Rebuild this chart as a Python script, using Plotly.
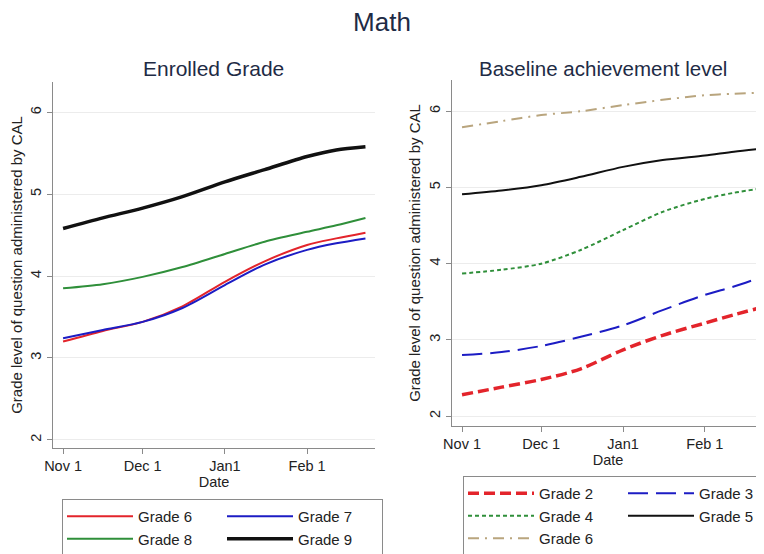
import plotly.graph_objects as go

# ---- data ----
days = [0, 15, 30, 45, 61, 76, 92, 103, 114]  # days since Nov 1
tick_days = [0, 30, 61, 92]
tick_labels = ["Nov 1", "Dec 1", "Jan1", "Feb 1"]
y_ticks = [2, 3, 4, 5, 6]

# Enrolled grade panel
enr_g6 = [3.20, 3.33, 3.44, 3.63, 3.93, 4.18, 4.38, 4.46, 4.53]
enr_g7 = [3.24, 3.34, 3.44, 3.61, 3.89, 4.14, 4.32, 4.40, 4.46]
enr_g8 = [3.85, 3.90, 3.99, 4.11, 4.27, 4.42, 4.54, 4.62, 4.71]
enr_g9 = [4.58, 4.71, 4.83, 4.97, 5.15, 5.30, 5.46, 5.54, 5.58]

# Baseline achievement panel
base_g2 = [2.28, 2.38, 2.48, 2.62, 2.87, 3.06, 3.22, 3.33, 3.43]
base_g3 = [2.80, 2.84, 2.92, 3.04, 3.19, 3.39, 3.59, 3.70, 3.83]
base_g4 = [3.87, 3.92, 4.00, 4.18, 4.44, 4.68, 4.85, 4.93, 4.99]
base_g5 = [4.91, 4.96, 5.03, 5.14, 5.27, 5.36, 5.42, 5.47, 5.51]
base_g6 = [5.79, 5.87, 5.95, 6.00, 6.08, 6.15, 6.21, 6.23, 6.245]

# page body has an 8px margin; figure fills the rest of the window
OFF = 8
W, H = 764 - OFF, 554 - OFF
def px_x(p):
    return (p - OFF) / W
def px_y(p):
    return 1 - (p - OFF) / H

RED = "#e3242b"
BLUE = "#1c1cc4"
GREEN = "#2f8f3a"
BLACK = "#111111"
TAN = "#b9a57e"
NAVY = "#1e2b45"
TXT = "#222222"
FONT = "Liberation Sans, Arial, sans-serif"

fig = go.Figure()

def add(x, y, name, color, width, dash, xa, ya, legend, group):
    fig.add_trace(go.Scatter(
        x=x, y=y, name=name, mode="lines",
        line=dict(color=color, width=width, dash=dash, shape="spline", smoothing=0.8),
        xaxis=xa, yaxis=ya, legend=legend, legendgroup=group,
        hoverinfo="skip",
    ))

# left panel (legend columns via groups)
add(days, enr_g6, "Grade 6", RED, 2, "solid", "x", "y", "legend", "a")
add(days, enr_g8, "Grade 8", GREEN, 2, "solid", "x", "y", "legend", "a")
add(days, enr_g7, "Grade 7", BLUE, 2, "solid", "x", "y", "legend", "b")
add(days, enr_g9, "Grade 9", BLACK, 3.5, "solid", "x", "y", "legend", "b")

# right panel
add(days, base_g2, "Grade 2", RED, 3.5, "11px,5px", "x2", "y2", "legend2", "c")
add(days, base_g4, "Grade 4", GREEN, 2, "4px,3px", "x2", "y2", "legend2", "c")
add(days, base_g6, "Grade 6", TAN, 2, "11px,6px,2px,6px", "x2", "y2", "legend2", "c")
add(days, base_g3, "Grade 3", BLUE, 2, "20px,8px", "x2", "y2", "legend2", "d")
add(days, base_g5, "Grade 5", BLACK, 2, "solid", "x2", "y2", "legend2", "d")

axis_common = dict(
    showline=True, linecolor="#8a8a8a", linewidth=1,
    ticks="outside", ticklen=5, tickcolor="#8a8a8a",
    tickfont=dict(size=14.5, color=TXT, family=FONT),
    zeroline=False,
)

xcommon = dict(axis_common, tickvals=tick_days, ticktext=tick_labels, showgrid=False,
               title=dict(text="Date", font=dict(size=14.5, color=TXT, family=FONT), standoff=0))
ycommon = dict(axis_common, tickvals=y_ticks, tickangle=-90, showgrid=True,
               gridcolor="#ececec", gridwidth=1,
               title=dict(text="Grade level of question administered by CAL",
                          font=dict(size=15, color=TXT, family=FONT), standoff=2))

legend_common = dict(
    orientation="h", traceorder="grouped", bordercolor="#8a8a8a", borderwidth=1,
    bgcolor="white", font=dict(size=15, color=TXT, family=FONT),
    xanchor="left", yanchor="top", entrywidth=79, tracegroupgap=0, itemwidth=66,
)

fig.update_layout(
    width=W, height=H,
    margin=dict(l=0, r=0, t=0, b=0, autoexpand=False),
    paper_bgcolor="white", plot_bgcolor="white",
    font=dict(family=FONT),
    title=dict(text="Math", x=px_x(382), xanchor="center", y=px_y(22), yanchor="middle",
               font=dict(size=26, color=NAVY, family=FONT)),
    xaxis=dict(xcommon, domain=[px_x(53), px_x(375)], range=[-3.8, 117.6], anchor="y"),
    yaxis=dict(ycommon, domain=[px_y(448), px_y(82)], range=[1.9, 6.37], anchor="x"),
    xaxis2=dict(xcommon, domain=[px_x(452), 1.0], range=[-3.8, 114.4], anchor="y2"),
    yaxis2=dict(ycommon, domain=[px_y(426), px_y(80)], range=[1.87, 6.41], anchor="x2"),
    legend=dict(legend_common, x=px_x(62), y=px_y(499)),
    legend2=dict(legend_common, x=px_x(463), y=px_y(476)),
    showlegend=True,
    annotations=[
        dict(text="Enrolled Grade", x=px_x(213), y=px_y(68), xref="paper", yref="paper",
             showarrow=False, xanchor="center", yanchor="middle",
             font=dict(size=21, color=NAVY, family=FONT)),
        dict(text="Baseline achievement level", x=px_x(603), y=px_y(68), xref="paper", yref="paper",
             showarrow=False, xanchor="center", yanchor="middle",
             font=dict(size=20.5, color=NAVY, family=FONT)),
    ],
)

fig.write_html("out.html")
